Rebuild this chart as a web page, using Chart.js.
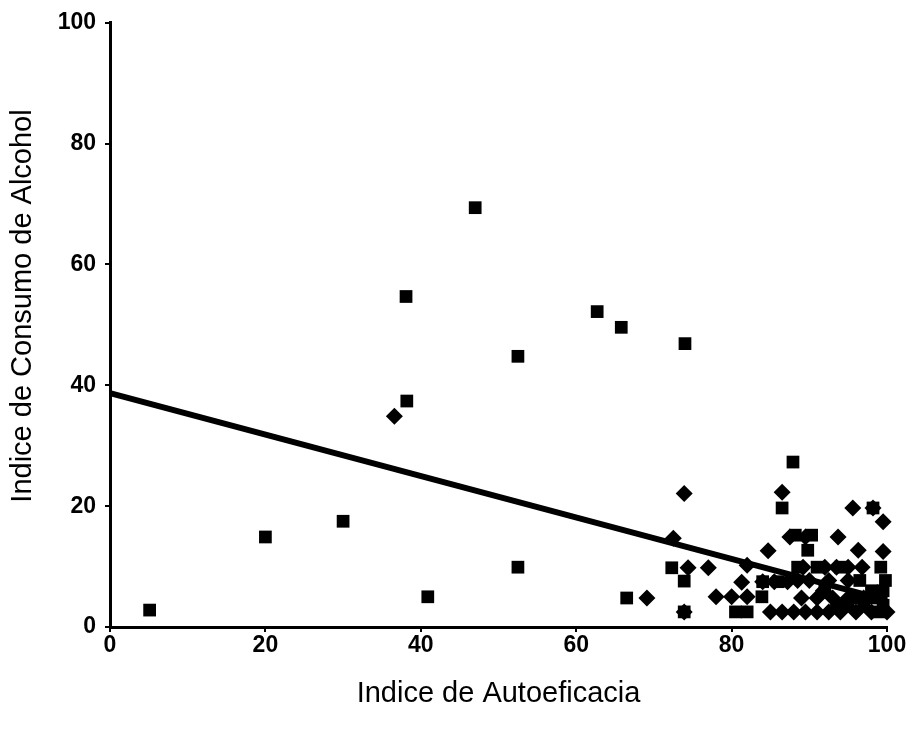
<!DOCTYPE html>
<html>
<head>
<meta charset="utf-8">
<script src="https://cdn.jsdelivr.net/npm/chart.js@4/dist/chart.umd.min.js"></script>
<style>
  html, body { margin: 0; padding: 0; background: #fff; }
  #wrap { width: 910px; height: 729px; position: relative; }
</style>
</head>
<body>
<div id="wrap"><canvas id="c" width="910" height="729"></canvas></div>
<script>
// Series: squares
const squareX = [5.1, 20, 30, 38.1, 38.2, 40.9, 47, 52.5, 52.5, 62.7, 65.8, 74, 66.5, 72.3, 73.9, 73.9,
  87.9, 86.5, 88.2, 90.3, 89.8, 83.9, 88.5, 98.2, 99.2, 99.8, 80.5, 82.0, 84.0, 86.0, 94.0, 96.0, 98.0,
  99.5, 92.0, 95.0, 97.0, 99.0, 96.5, 98.0, 99.5, 93.5, 91.0];
const squareY = [2.8, 14.9, 17.5, 54.7, 37.4, 5.0, 69.4, 44.8, 9.9, 52.2, 49.6, 46.9, 4.8, 9.8, 7.6, 2.5,
  27.3, 19.7, 15.2, 15.2, 12.7, 5.0, 9.9, 19.7, 9.9, 7.7, 2.5, 2.5, 7.5, 7.5, 9.9, 4.8, 4.8,
  3.6, 6.0, 3.6, 3.6, 2.5, 7.7, 6.0, 6.0, 3.6, 9.9];
// Series: diamonds
const diamondX = [36.6, 73.9, 72.5, 74.4, 77.0, 69.1, 86.5, 84.7, 82.0, 81.3, 78.0, 80.0, 82.0, 95.6, 98.2,
  99.5, 93.7, 96.3, 92.0, 93.5, 95.0, 96.8, 89.2, 88.5, 90.0, 92.5, 95.0, 91.8, 89.0, 91.0, 93.0, 95.0,
  97.0, 99.0, 85.0, 86.5, 88.0, 89.5, 91.0, 92.5, 94.0, 96.0, 98.0, 100.0, 84.0, 85.5, 87.2, 99.5, 73.9,
  87.5, 89.5];
const diamondY = [34.9, 22.1, 14.7, 9.8, 9.8, 4.8, 22.3, 12.6, 10.2, 7.4, 5.0, 5.0, 5.0, 19.7, 19.7,
  17.4, 14.9, 12.7, 9.9, 9.9, 9.9, 9.9, 9.9, 7.7, 7.7, 7.7, 7.7, 6.0, 4.8, 4.8, 4.8, 4.8,
  4.8, 4.8, 2.5, 2.5, 2.5, 2.5, 2.5, 2.5, 2.5, 2.5, 2.5, 2.5, 7.5, 7.5, 7.5, 12.5, 2.5,
  14.9, 14.9];
// Regression line
const fitX = [0, 100];
const fitY = [38.7, 4.4];
// Axes
const xTitle = 'Indice de Autoeficacia';
const yTitle = 'Indice de Consumo de Alcohol';
const axisMin = 0, axisMax = 100, axisStep = 20;

const toPts = (xs, ys) => xs.map((x, i) => ({ x: x, y: ys[i] }));

const fontFam = '"Liberation Sans", Arial, sans-serif';
const tickFam = '"Liberation Sans Narrow", "Liberation Sans", Arial, sans-serif';

// Draws the vertical axis title (real canvas text) at the same place as the original
const yTitlePlugin = {
  id: 'yTitlePlugin',
  afterDraw(chart) {
    const ctx = chart.ctx;
    ctx.save();
    ctx.fillStyle = '#000';
    ctx.font = '29px ' + fontFam;
    ctx.textAlign = 'center';
    ctx.textBaseline = 'middle';
    ctx.translate(23, 306);
    ctx.rotate(-Math.PI / 2);
    ctx.fillText(yTitle, 0, 0);
    ctx.restore();
  }
};

new Chart(document.getElementById('c'), {
  type: 'scatter',
  data: {
    datasets: [
      {
        label: 'Cuadrados',
        data: toPts(squareX, squareY),
        pointStyle: 'rect',
        pointRadius: 9,
        backgroundColor: '#000',
        borderColor: '#000',
        borderWidth: 0
      },
      {
        label: 'Rombos',
        data: toPts(diamondX, diamondY),
        pointStyle: 'rectRot',
        pointRadius: 8.5,
        backgroundColor: '#000',
        borderColor: '#000',
        borderWidth: 0
      },
      {
        type: 'line',
        label: 'Ajuste',
        data: toPts(fitX, fitY),
        borderColor: '#000',
        borderWidth: 6,
        pointRadius: 0,
        fill: false,
        tension: 0
      }
    ]
  },
  plugins: [yTitlePlugin],
  options: {
    responsive: false,
    animation: false,
    clip: false,
    layout: { padding: { top: 22, right: 23, left: 0, bottom: 0 } },
    plugins: {
      legend: { display: false },
      tooltip: { enabled: false }
    },
    scales: {
      x: {
        type: 'linear',
        min: axisMin, max: axisMax,
        ticks: { stepSize: axisStep, color: '#000', font: { family: tickFam, size: 23, weight: 'bold' }, padding: 0 },
        grid: { drawOnChartArea: false, drawTicks: true, tickLength: 5, color: '#000', lineWidth: 2 },
        border: { display: true, color: '#000', width: 3 },
        title: { display: true, text: xTitle, color: '#000', font: { family: fontFam, size: 29 }, padding: { top: 6, bottom: 18 } },
        afterFit: (s) => { s.height = 102; }
      },
      y: {
        type: 'linear',
        min: axisMin, max: axisMax,
        ticks: { stepSize: axisStep, color: '#000', font: { family: tickFam, size: 23, weight: 'bold' }, padding: 9 },
        grid: { drawOnChartArea: false, drawTicks: true, tickLength: 5, color: '#000', lineWidth: 2 },
        border: { display: true, color: '#000', width: 3 },
        title: { display: false, text: yTitle },
        afterFit: (s) => { s.width = 110; }
      }
    }
  }
});
</script>
</body>
</html>
